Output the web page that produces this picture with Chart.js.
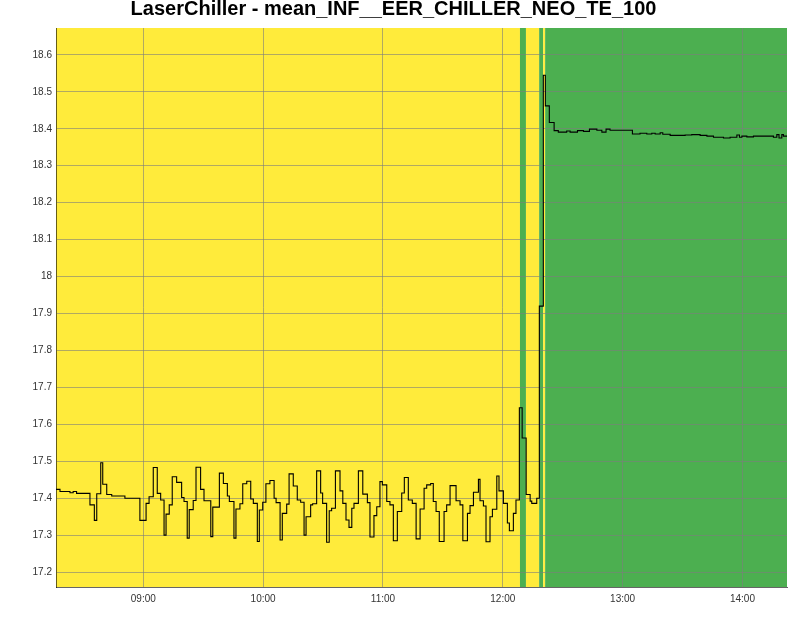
<!DOCTYPE html>
<html lang="en">
<head>
<meta charset="UTF-8">
<title>LaserChiller - mean_INF__EER_CHILLER_NEO_TE_100</title>
<script src="https://cdn.jsdelivr.net/npm/chart.js"></script>
<style>
  html, body { margin: 0; padding: 0; background: #fff; }
</style>
</head>
<body>
<canvas id="chart" width="792" height="628"></canvas>
<script>
// times are minutes since midnight, temps in degC (step changes)
const times = [
  496.3, 498.3, 503.3, 504.9, 506.6, 513.3, 515.5, 516.7, 518.7, 519.7,
  521.7, 524.2, 530.8, 538.3, 541.4, 542.9, 545.0, 547.0, 548.7, 550.4,
  551.4, 553.0, 554.5, 556.7, 559.2, 560.4, 562.0, 563.0, 565.0, 566.4,
  568.7, 570.4, 573.8, 574.8, 578.1, 580.1, 582.1, 583.1, 585.4, 586.4,
  588.4, 589.8, 591.8, 593.8, 595.1, 597.1, 598.1, 599.8, 601.4, 603.4,
  605.5, 606.5, 608.5, 609.6, 611.8, 613.0,
  615.1, 617.1, 618.8, 620.5, 621.5, 623.8, 624.8, 626.8, 628.8, 629.8,
  631.8, 633.1, 634.3, 636.2, 638.5, 639.9, 641.5, 643.0, 644.4, 645.5,
  647.7, 649.9, 652.2, 653.5, 655.5, 656.9, 658.5, 659.7, 661.9, 663.5,
  665.2, 667.2, 669.4, 670.7, 672.7, 674.7, 676.6, 678.6, 680.6, 681.9,
  683.9, 685.2, 686.6, 688.2, 690.6, 691.9, 693.6, 696.6, 698.6, 700.0,
  702.3, 703.6, 705.3, 707.8, 708.6, 710.3, 711.6, 713.6, 714.8, 717.0,
  718.1, 720.3, 722.3, 723.3, 725.3, 726.6, 728.3, 729.7, 731.7, 733.7,
  734.5, 737.0, 738.3, 740.3, 741.3, 743.3, 745.7, 747.8, 752.0, 753.7,
  757.4, 760.4, 763.4, 767.1, 769.6, 771.7, 773.7, 784.9, 788.7, 792.1,
  794.6, 796.3, 798.8, 800.1, 803.8, 811.3, 814.6, 818.8, 822.2, 825.5,
  830.5, 833.8, 837.2, 838.5, 839.7, 842.2, 845.5, 855.5, 857.2, 858.3,
  859.7, 860.5, 862.3
];
const temps = [
  17.424, 17.418, 17.415, 17.418, 17.413, 17.382, 17.34, 17.412, 17.496, 17.438,
  17.41, 17.406, 17.40, 17.34, 17.386, 17.404, 17.483, 17.413, 17.395, 17.30,
  17.357, 17.382, 17.458, 17.443, 17.402, 17.391, 17.292, 17.369, 17.394, 17.484,
  17.424, 17.393, 17.296, 17.376, 17.468, 17.44, 17.406, 17.391, 17.292, 17.371,
  17.385, 17.439, 17.446, 17.398, 17.386, 17.283, 17.368, 17.389, 17.439, 17.448,
  17.40, 17.388, 17.287, 17.359, 17.384, 17.466,
  17.433, 17.395, 17.389, 17.30, 17.35, 17.382, 17.385, 17.474, 17.414, 17.386,
  17.281, 17.366, 17.373, 17.474, 17.42, 17.386, 17.341, 17.321, 17.373, 17.386,
  17.474, 17.411, 17.388, 17.295, 17.353, 17.377, 17.445, 17.436, 17.391, 17.382,
  17.285, 17.364, 17.414, 17.456, 17.395, 17.386, 17.29, 17.371, 17.427, 17.436,
  17.44, 17.391, 17.364, 17.283, 17.364, 17.382, 17.434, 17.393, 17.382, 17.285,
  17.359, 17.38, 17.416, 17.451, 17.393, 17.379, 17.282, 17.35, 17.37, 17.46,
  17.42, 17.386, 17.333, 17.312, 17.359, 17.395, 17.645, 17.563, 17.41, 17.392,
  17.386, 17.40, 17.92, 18.545, 18.462, 18.417, 18.395, 18.391, 18.394, 18.391,
  18.395, 18.393, 18.399, 18.396, 18.391, 18.399, 18.396, 18.386, 18.388, 18.386,
  18.388, 18.386, 18.389, 18.385, 18.382, 18.383, 18.384, 18.382, 18.380, 18.377,
  18.375, 18.377, 18.383, 18.377, 18.380, 18.378, 18.380, 18.377, 18.384, 18.375,
  18.384, 18.380, 18.380
];

// chiller state periods (background bands)
const bandStarts = [496.3, 728.6, 731.6, 738.2, 740.2, 741.2];
const bandEnds   = [728.6, 731.6, 738.2, 740.2, 741.2, 862.3];
const bandStates = ['off', 'on', 'off', 'on', 'off', 'on'];

const xTicks = [540, 600, 660, 720, 780, 840];
const yTicks = [17.2, 17.3, 17.4, 17.5, 17.6, 17.7, 17.8, 17.9, 18.0, 18.1, 18.2, 18.3, 18.4, 18.5, 18.6];
const xRange = [496.3, 862.3];
const yRange = [17.1597, 18.6727];

const stateColors = { off: '#ffeb3b', on: '#4caf50' };

const bandPlugin = {
  id: 'bands',
  beforeDraw(chart) {
    const { ctx, chartArea, scales } = chart;
    ctx.save();
    ctx.beginPath();
    ctx.rect(chartArea.left, chartArea.top, chartArea.right - chartArea.left, chartArea.bottom - chartArea.top);
    ctx.clip();
    bandStarts.forEach((s, i) => {
      const x0 = scales.x.getPixelForValue(s);
      const x1 = scales.x.getPixelForValue(bandEnds[i]);
      ctx.fillStyle = stateColors[bandStates[i]];
      ctx.fillRect(x0, chartArea.top, x1 - x0, chartArea.bottom - chartArea.top);
    });
    ctx.restore();
  }
};

function hhmm(v) {
  const h = Math.floor(v / 60), m = Math.round(v % 60);
  return String(h).padStart(2, '0') + ':' + String(m).padStart(2, '0');
}

const gridColor = 'rgba(125,125,125,0.6)';
const tickFont = { family: 'Liberation Sans, Arial, sans-serif', size: 10 };

new Chart(document.getElementById('chart'), {
  type: 'line',
  data: {
    datasets: [{
      data: times.map((t, i) => ({ x: t, y: temps[i] })),
      borderColor: '#000',
      borderWidth: 1.1,
      pointRadius: 0,
      stepped: true,
      fill: false
    }]
  },
  options: {
    responsive: false,
    animation: false,
    layout: { padding: { left: 0, right: 5, top: 0, bottom: 0 } },
    plugins: {
      legend: { display: false },
      tooltip: { enabled: false },
      title: {
        display: true,
        text: 'LaserChiller - mean_INF__EER_CHILLER_NEO_TE_100',
        color: '#000',
        font: { family: 'Liberation Sans, Arial, sans-serif', size: 20, weight: 'bold' },
        padding: { top: -3, bottom: 7 }
      }
    },
    scales: {
      x: {
        type: 'linear',
        min: xRange[0],
        max: xRange[1],
        afterBuildTicks: s => { s.ticks = xTicks.map(v => ({ value: v })); },
        afterFit: s => { s.height = 41; },
        ticks: {
          callback: v => hhmm(v),
          color: '#333',
          font: tickFont,
          padding: 6,
          maxRotation: 0,
          autoSkip: false
        },
        grid: { color: gridColor, drawTicks: false },
        border: { color: 'rgba(0,0,0,0.6)', width: 1 }
      },
      y: {
        type: 'linear',
        min: yRange[0],
        max: yRange[1],
        afterBuildTicks: s => { s.ticks = yTicks.map(v => ({ value: v })); },
        afterFit: s => { s.width = 56; },
        ticks: {
          callback: v => String(Math.round(v * 10) / 10),
          color: '#333',
          font: tickFont,
          padding: 4,
          autoSkip: false
        },
        grid: { color: gridColor, drawTicks: false },
        border: { color: 'rgba(0,0,0,0.6)', width: 1 }
      }
    }
  },
  plugins: [bandPlugin]
});
</script>
</body>
</html>
